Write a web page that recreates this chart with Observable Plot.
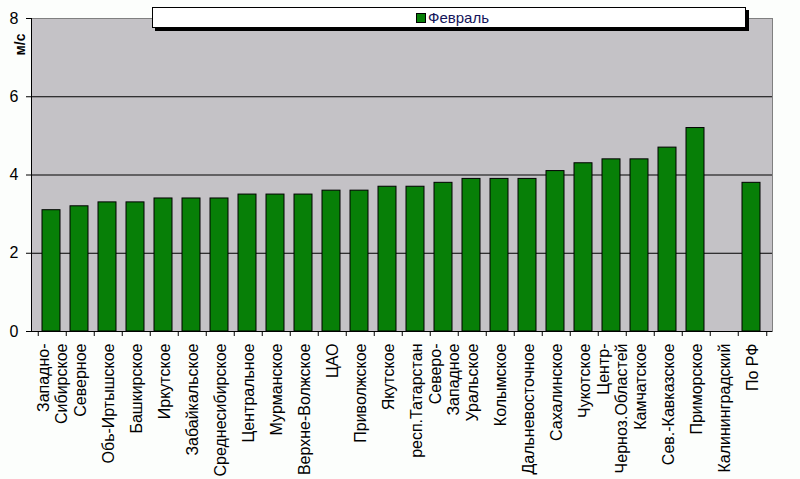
<!DOCTYPE html>
<html>
<head>
<meta charset="utf-8">
<script src="https://cdn.jsdelivr.net/npm/d3@7"></script>
<script src="https://cdn.jsdelivr.net/npm/@observablehq/plot@0.6"></script>
<style>
  html, body { margin: 0; padding: 0; background: #fcfefc; }
  #wrap { position: relative; width: 800px; height: 479px; font-family: "Liberation Sans", Arial, sans-serif; }
  #legend { position: absolute; left: 152px; top: 7px; width: 592px; height: 19px; background: #fff; border: 1px solid #000; box-shadow: 3px 3px 0 #000; }
  #legend .sw { position: absolute; left: 263px; top: 5px; width: 8px; height: 8px; background: #077f07; border: 1px solid #000; }
  #legend .lb { position: absolute; left: 275px; top: 0px; font-size: 15px; line-height: 19px; color: #14145a; }
</style>
</head>
<body>
<div id="wrap"></div>
<script>
const categories = [
  "Западно-\nСибирское", "Северное", "Обь-Иртышское", "Башкирское", "Иркутское",
  "Забайкальское", "Среднесибирское", "Центральное", "Мурманское", "Верхне-Волжское",
  "ЦАО", "Приволжское", "Якутское", "респ.Татарстан", "Северо-\nЗападное",
  "Уральское", "Колымское", "Дальневосточное", "Сахалинское", "Чукотское",
  "Центр-\nЧерноз.Областей", "Камчатское", "Сев.-Кавказское", "Приморское", "Калининградский",
  "По РФ"
];
const values = [
  3.1, 3.2, 3.3, 3.3, 3.4,
  3.4, 3.4, 3.5, 3.5, 3.5,
  3.6, 3.6, 3.7, 3.7, 3.8,
  3.9, 3.9, 3.9, 4.1, 4.3,
  4.4, 4.4, 4.7, 5.2, null,
  3.8
];
const seriesName = "Февраль";
const yTicks = [0, 2, 4, 6, 8];
const gridValues = [2, 4, 6];
const yLabel = "м/с";

const data = categories.map((c, i) => ({category: c, value: values[i]}));

const W = 800, H = 479, mL = 31, mR = 28, mT = 18, mB = 148;
const bw = (W - mL - mR) / categories.length;

const chart = Plot.plot({
  width: W,
  height: H,
  marginLeft: mL,
  marginRight: mR,
  marginTop: mT,
  marginBottom: mB,
  style: {background: "transparent", fontFamily: "Liberation Sans, Arial, sans-serif", color: "#000"},
  x: {domain: categories, paddingInner: 0.36, paddingOuter: 0.18, axis: null},
  y: {domain: [0, 8], axis: null},
  marks: [
    Plot.frame({fill: "#c4c2c6", stroke: null}),
    Plot.ruleY(gridValues, {stroke: "#000", strokeWidth: 1}),
    Plot.ruleY([8], {stroke: "#808080", strokeWidth: 1}),
    Plot.frame({anchor: "right", stroke: "#808080"}),
    Plot.barY(data.filter(d => d.value != null), {x: "category", y: "value", fill: "#077f07", stroke: "#000", strokeWidth: 1, dx: -1}),
    Plot.ruleY([0], {stroke: "#000"}),
    Plot.frame({anchor: "left", stroke: "#000"}),
    Plot.ruleX(categories, {x: d => d, y1: 0, y2: 0, dx: -bw / 2, insetBottom: -5, stroke: "#000"}),
    Plot.ruleX(categories.slice(-1), {x: d => d, y1: 0, y2: 0, dx: bw / 2, insetBottom: -5, stroke: "#000"}),
    Plot.axisY({ticks: yTicks, tickSize: 5, tickPadding: 8, fontSize: 16, tickFormat: d => String(d), fill: "#000", label: null}),
    Plot.text(categories, {x: d => d, frameAnchor: "bottom", dy: 12, rotate: -90, textAnchor: "end", lineAnchor: "middle", fontSize: 16, lineHeight: 1.12, fill: "#000"}),
    Plot.text([yLabel], {frameAnchor: "top-left", dx: -11, dy: 26, rotate: -90, textAnchor: "middle", lineAnchor: "middle", fontWeight: "bold", fontSize: 14, fill: "#000"})
  ]
});

const wrap = document.getElementById("wrap");
wrap.appendChild(chart);
const legend = document.createElement("div");
legend.id = "legend";
legend.innerHTML = '<div class="sw"></div><div class="lb"></div>';
legend.querySelector(".lb").textContent = seriesName;
wrap.appendChild(legend);
</script>
</body>
</html>
